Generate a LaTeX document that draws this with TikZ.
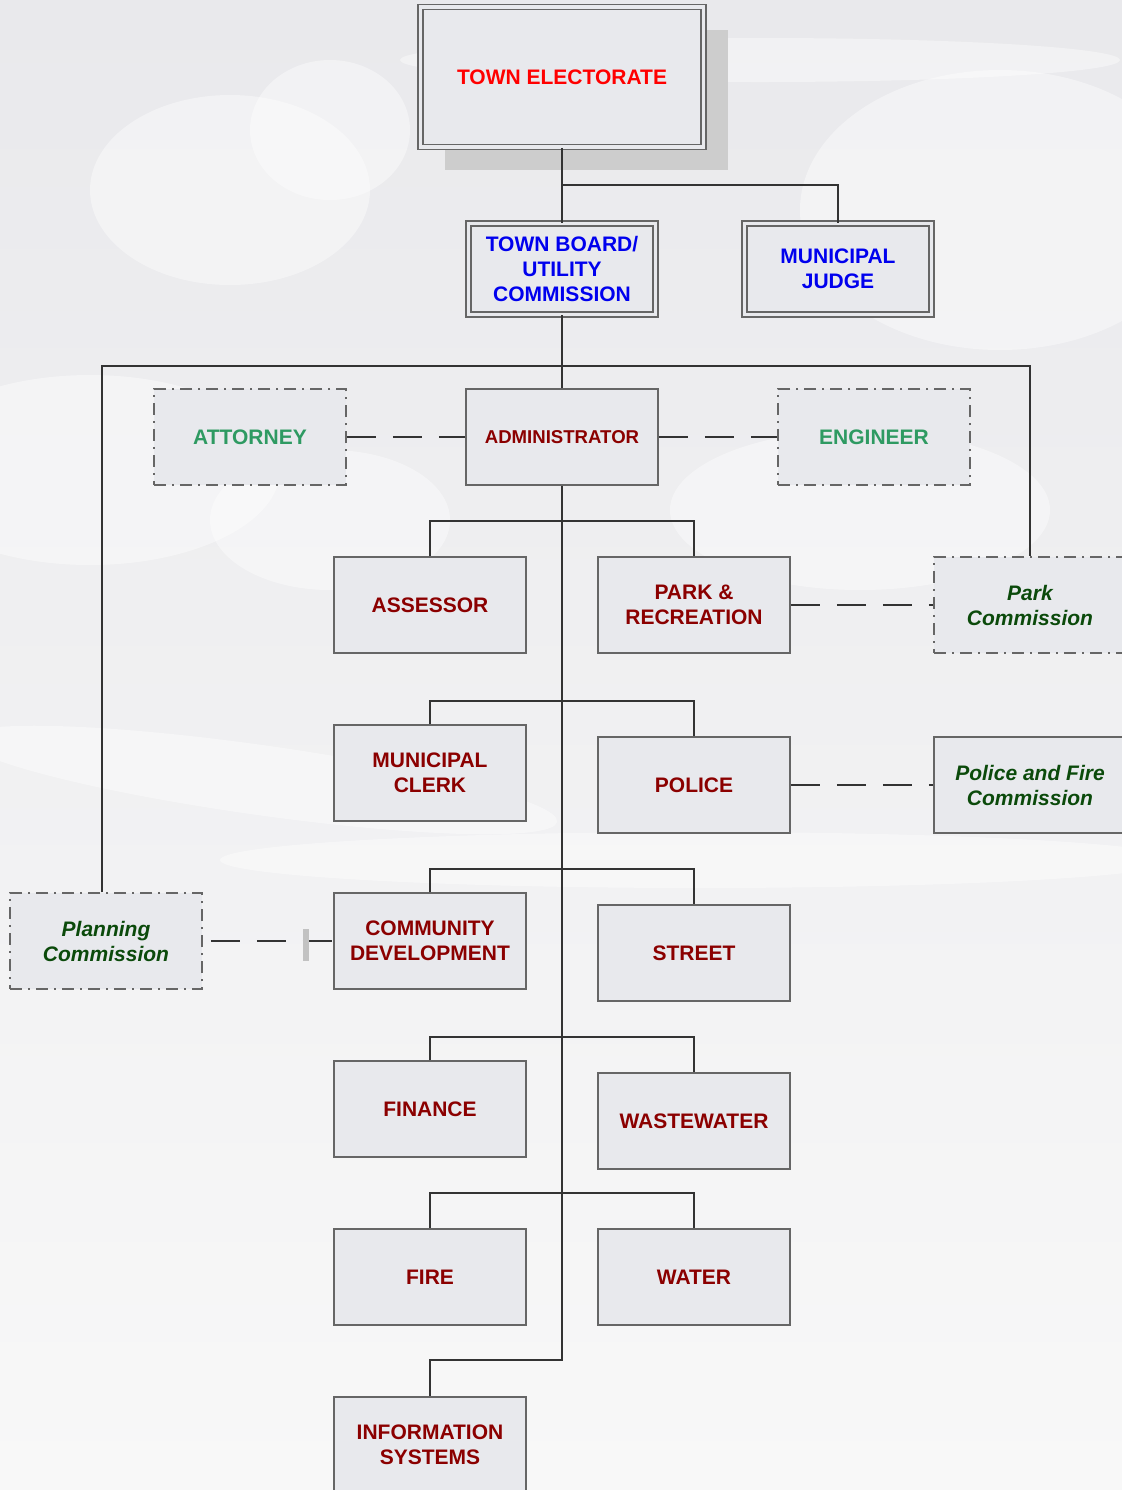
\documentclass[tikz,border=0pt]{standalone}
\usepackage{fontspec}
\setmainfont{Liberation Sans}
\usetikzlibrary{shadows}

\definecolor{boxfill}{HTML}{E8E9ED}
\definecolor{boxline}{HTML}{666666}
\definecolor{linecol}{HTML}{333333}
\definecolor{shadowgray}{HTML}{CDCDCD}
\definecolor{deptred}{HTML}{8B0000}
\definecolor{electblue}{HTML}{0000EE}
\definecolor{advgreen}{HTML}{2E9A62}
\definecolor{commgreen}{HTML}{0B4A0B}
\definecolor{bgtop}{HTML}{E9E9EC}
\definecolor{bgbottom}{HTML}{F8F8F8}

\begin{document}
\begin{tikzpicture}[
    x=0.5pt, y=-0.5pt,
    unit/.style={rectangle, draw=boxline, line width=0.75pt, fill=boxfill, minimum width=96pt, minimum height=48pt, inner sep=2pt, align=center, text=deptred, font=\bfseries\fontsize{10.5}{12.5}\selectfont},
    advisor/.style={unit, dash pattern=on 6pt off 3pt on 1pt off 3pt, text=advgreen},
    commission/.style={unit, text=commgreen, font=\bfseries\itshape\fontsize{10.5}{12.5}\selectfont},
    elected/.style={unit, double=boxfill, double distance=1.75pt, text=electblue, minimum width=93.5pt, minimum height=45.5pt},
    link/.style={draw=linecol, line width=1pt},
    dashlink/.style={link, dash pattern=on 14.5pt off 8.5pt},
    cloud/.style={fill=white, opacity=0.4}
]

    % Background
    \useasboundingbox (0,0) rectangle (1122,1490);
    \shade[top color=bgtop, bottom color=bgbottom] (0,0) rectangle (1122,1490);
    \fill[cloud] (230,190) ellipse [x radius=140, y radius=95];
    \fill[cloud] (330,130) ellipse [x radius=80, y radius=70];
    \fill[cloud] (90,470) ellipse [x radius=190, y radius=95];
    \fill[cloud] (330,520) ellipse [x radius=120, y radius=70];
    \fill[cloud] (1000,210) ellipse [x radius=200, y radius=140];
    \fill[cloud] (860,510) ellipse [x radius=190, y radius=80];
    \fill[cloud, rotate around={-8:(260,780)}] (260,780) ellipse [x radius=300, y radius=35];
    \fill[cloud] (700,860) ellipse [x radius=480, y radius=28];
    \fill[cloud] (760,60) ellipse [x radius=360, y radius=22];

    % Elected offices
    \node[elected, text=red, minimum width=141.5pt, minimum height=70pt,
          drop shadow={shadow xshift=12pt, shadow yshift=-11.5pt, fill=shadowgray, opacity=1}]
          (electorate) at (562,77) {TOWN ELECTORATE};
    \node[elected] (board) at (562,269) {TOWN BOARD/\\UTILITY\\COMMISSION};
    \node[elected] (judge) at (838,269) {MUNICIPAL\\JUDGE};

    % Administrator and advisors
    \node[unit, font=\bfseries\fontsize{9.3}{11}\selectfont] (admin) at (562,437) {ADMINISTRATOR};
    \node[advisor] (attorney) at (250,437) {ATTORNEY};
    \node[advisor] (engineer) at (874,437) {ENGINEER};

    % Departments
    \node[unit] (assessor) at (430,605) {ASSESSOR};
    \node[unit] (parkrec) at (694,605) {PARK \&\\RECREATION};
    \node[unit] (clerk) at (430,773) {MUNICIPAL\\CLERK};
    \node[unit] (police) at (694,785) {POLICE};
    \node[unit] (commdev) at (430,941) {COMMUNITY\\DEVELOPMENT};
    \node[unit] (street) at (694,953) {STREET};
    \node[unit] (finance) at (430,1109) {FINANCE};
    \node[unit] (wastewater) at (694,1121) {WASTEWATER};
    \node[unit] (fire) at (430,1277) {FIRE};
    \node[unit] (water) at (694,1277) {WATER};
    \node[unit] (infosys) at (430,1445) {INFORMATION\\SYSTEMS};

    % Commissions
    \node[advisor, commission] (parkcomm) at (1030,605) {Park\\Commission};
    \node[commission] (pfcomm) at (1030,785) {Police and Fire\\Commission};
    \node[advisor, commission] (planning) at (106,941) {Planning\\Commission};

    % Junction points
    \coordinate (topsplit) at (562,185);
    \coordinate (govbar) at (562,366);
    \coordinate (br1) at (562,521);
    \coordinate (br2) at (562,701);
    \coordinate (br3) at (562,869);
    \coordinate (br4) at (562,1037);
    \coordinate (br5) at (562,1193);
    \coordinate (spineend) at (562,1360);

    % Reporting lines
    \draw[link] (electorate) -- (board);
    \draw[link] (topsplit) -| (judge);
    \draw[link] (board) -- (admin);
    \draw[link] ([xshift=-2pt]planning.north) |- (govbar) -| (parkcomm);
    \draw[link] (admin) -- (spineend) -| (infosys);
    \draw[link] (assessor) |- (br1) -| (parkrec);
    \draw[link] (clerk) |- (br2) -| (police);
    \draw[link] (commdev) |- (br3) -| (street);
    \draw[link] (finance) |- (br4) -| (wastewater);
    \draw[link] (fire) |- (br5) -| (water);

    % Advisory lines
    \draw[dashlink] (attorney) -- (admin);
    \draw[dashlink] (admin) -- (engineer);
    \draw[dashlink] (parkrec) -- (parkcomm);
    \draw[dashlink] (police) -- (pfcomm);
    \draw[dashlink, dash phase=19pt] (planning) -- (commdev);
    \node[fill=boxline!40, minimum width=3pt, minimum height=16pt, inner sep=0pt] (tick) at (305.5,945) {};

\end{tikzpicture}
\end{document}
